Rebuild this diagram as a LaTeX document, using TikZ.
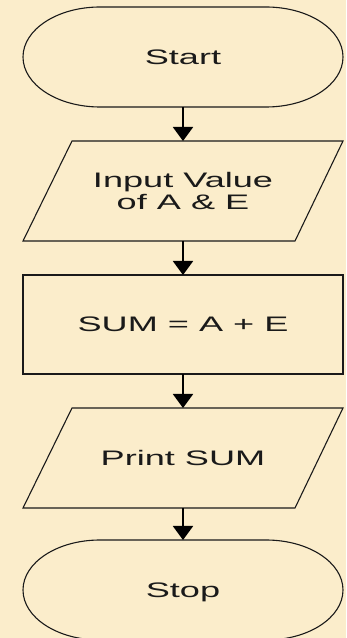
\documentclass[tikz,border=0pt]{standalone}
\usepackage{fontspec}
\newfontfamily\flowfont[FakeStretch=1.72]{Liberation Sans}
\usetikzlibrary{arrows.meta}
\definecolor{bgbeige}{HTML}{FBEDCB}
\definecolor{inkc}{HTML}{1A1A1A}
\tikzset{
  box/.style={draw=none, minimum width=320pt, minimum height=100pt, inner sep=0pt, outer sep=0pt,
    font=\flowfont\fontsize{21}{22}\selectfont, text=inkc, align=center},
  outline/.style={draw=inkc, line width=1.1pt, fill=bgbeige},
  arr/.style={draw=black, line width=2pt, -{Triangle[width=20pt,length=14pt]}, shorten >=0pt},
}
\begin{document}
\begin{tikzpicture}[x=1pt,y=1pt]
\fill[bgbeige] (0,0) rectangle (346,638);
\useasboundingbox (0,0) rectangle (346,638);

% nodes
\node[box] (start) at (183,581) {};
\node[box] (input) at (183,447) {};
\node[box, minimum height=99pt] (sum) at (183,313.5) {};
\node[box] (print) at (183,180) {};
\node[box] (stop) at (183,48) {};

% shapes
\draw[outline] ([xshift=77pt]start.north west) -- ([xshift=-77pt]start.north east)
  arc[start angle=90, end angle=-90, x radius=77, y radius=50]
  -- ([xshift=77pt]start.south west)
  arc[start angle=270, end angle=90, x radius=77, y radius=50] -- cycle;
\draw[outline] ([xshift=49pt]input.north west) -- (input.north east)
  -- ([xshift=-48pt]input.south east) -- (input.south west) -- cycle;
\draw[outline] (sum.north west) rectangle (sum.south east);
\draw[outline] ([xshift=49pt]print.north west) -- (print.north east)
  -- ([xshift=-48pt]print.south east) -- (print.south west) -- cycle;
\draw[outline] ([xshift=77pt]stop.north west) -- ([xshift=-77pt]stop.north east)
  arc[start angle=90, end angle=-90, x radius=77, y radius=50]
  -- ([xshift=77pt]stop.south west)
  arc[start angle=270, end angle=90, x radius=77, y radius=50] -- cycle;

% texts
\node[box, minimum width=0pt, minimum height=0pt] at (start) {Start};
\node[box, minimum width=0pt, minimum height=0pt] at (input) {Input Value\\of A \& E};
\node[box, minimum width=0pt, minimum height=0pt] at (sum) {SUM = A + E};
\node[box, minimum width=0pt, minimum height=0pt] at (print) {Print SUM};
\node[box, minimum width=0pt, minimum height=0pt] at ([yshift=-2pt]stop.center) {Stop};

% connectors
\draw[arr] (start.south) -- (input.north);
\draw[arr] (input.south) -- (sum.north);
\draw[arr] (sum.south) -- (print.north);
\draw[arr] (print.south) -- (stop.north);
\end{tikzpicture}
\end{document}
